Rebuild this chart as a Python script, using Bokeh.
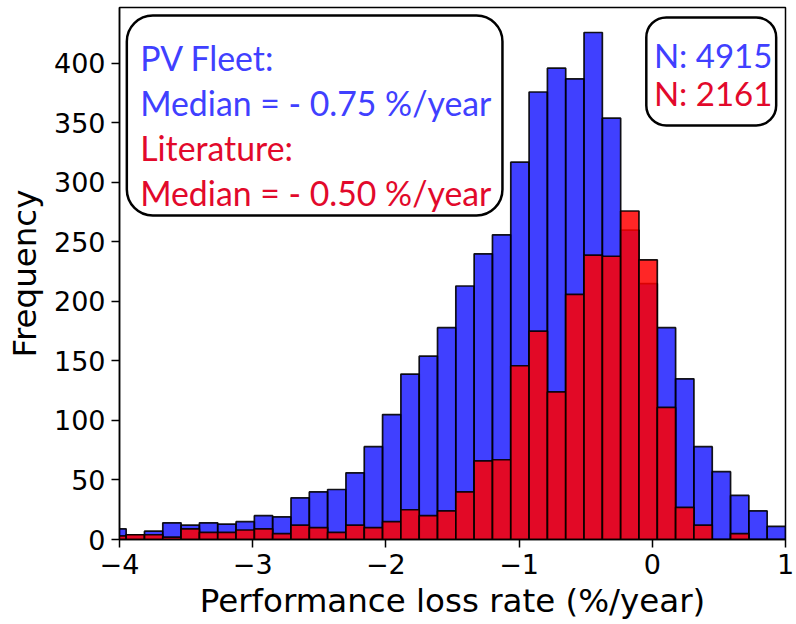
import numpy as np
from bokeh.plotting import figure
from bokeh.models import ColumnDataSource, BoxAnnotation, Label, FixedTicker
from bokeh.embed import file_html
from bokeh.resources import INLINE

# ---- data ----
bin_start = -4.0875
bin_width = 0.1375
fleet_counts = [9, 4, 7, 14, 12, 14, 13, 15, 20, 19, 35, 40, 42, 56, 78, 105, 139, 154, 178, 213,
                240, 256, 317, 376, 396, 387, 426, 354, 260, 215, 178, 135, 78, 57, 37, 24, 11]
lit_counts = [3, 4, 4, 2, 9, 6, 6, 8, 9, 5, 12, 10, 6, 12, 10, 15, 25, 20, 24, 40,
              66, 67, 146, 175, 124, 206, 239, 238, 276, 235, 111, 27, 12, 0, 5, 0, 0]
x_ticks = [-4, -3, -2, -1, 0, 1]
y_ticks = [0, 50, 100, 150, 200, 250, 300, 350, 400]
box_lines = ["PV Fleet:", "Median = - 0.75 %/year", "Literature:", "Median = - 0.50 %/year"]
n_lines = ["N: 4915", "N: 2161"]

n = len(fleet_counts)
left = bin_start + bin_width * np.arange(n)
right = left + bin_width
src_f = ColumnDataSource(dict(left=left, right=right, top=fleet_counts))
src_l = ColumnDataSource(dict(left=left, right=right, top=lit_counts))

BLUE_TXT = "#4040ff"
RED_TXT = "#e2092b"

p = figure(width=796, height=624, x_range=(-4, 1), y_range=(0, 447),
           output_backend="svg", toolbar_location=None,
           min_border_left=119, min_border_right=11, min_border_top=7, min_border_bottom=85)

p.quad(left="left", right="right", top="top", bottom=0, source=src_f,
       fill_color="blue", fill_alpha=0.75, line_color="black", line_alpha=0.9, line_width=1.7)
p.quad(left="left", right="right", top="top", bottom=0, source=src_l,
       fill_color="red", fill_alpha=0.85, line_color="black", line_alpha=0.9, line_width=1.7)

p.xgrid.visible = False
p.ygrid.visible = False
p.outline_line_color = "black"
p.outline_line_width = 1.5
p.outline_line_alpha = 1

for ax in (p.xaxis[0], p.yaxis[0]):
    ax.axis_line_color = "black"
    ax.axis_line_width = 1.5
    ax.major_tick_line_width = 1.5
    ax.major_tick_out = 8
    ax.major_tick_in = 0
    ax.minor_tick_out = 0
    ax.minor_tick_in = 0
    ax.major_label_text_font = "DejaVu Sans"
    ax.major_label_text_font_size = "27px"
    ax.major_label_text_color = "black"
    ax.axis_label_text_font = "DejaVu Sans"
    ax.axis_label_text_font_size = "32.5px"
    ax.axis_label_text_font_style = "normal"
    ax.axis_label_text_color = "black"

p.xaxis.ticker = FixedTicker(ticks=x_ticks)
p.yaxis.ticker = FixedTicker(ticks=y_ticks)
p.xaxis.major_label_overrides = {t: (str(t).replace("-", "\u2212")) for t in x_ticks}
p.xaxis.axis_label = "Performance loss rate (%/year)"
p.yaxis.axis_label = "Frequency"
p.xaxis.major_label_standoff = 6
p.yaxis.major_label_standoff = 6
p.xaxis.axis_label_standoff = 5
p.yaxis.axis_label_standoff = 7

# ---- annotation boxes (layout positions) ----
p.add_layout(BoxAnnotation(left=-3.945, right=-1.125, bottom=272.3, top=440.3,
                           fill_color="white", fill_alpha=1, line_color="black", line_alpha=1,
                           line_width=2.5, border_radius=26, level="overlay"))
p.add_layout(BoxAnnotation(left=-0.045, right=0.93, bottom=347.9, top=438.7,
                           fill_color="white", fill_alpha=1, line_color="black", line_alpha=1,
                           line_width=2.5, border_radius=20, level="overlay"))

box_font = "Lato"
ys = [404.2, 366.4, 328.6, 290.8]
cols = [BLUE_TXT, BLUE_TXT, RED_TXT, RED_TXT]
for txt, yy, c in zip(box_lines, ys, cols):
    p.add_layout(Label(x=-3.845, y=yy, text=txt, text_color=c, text_font=box_font,
                       text_font_size="33.8px", text_baseline="alphabetic", level="overlay"))
for txt, yy, c in zip(n_lines, [406.7, 375.0], [BLUE_TXT, RED_TXT]):
    p.add_layout(Label(x=0.012, y=yy, text=txt, text_color=c, text_font=box_font,
                       text_font_size="33px", text_baseline="alphabetic", level="overlay"))

open("out.html", "w").write(file_html(p, INLINE))
